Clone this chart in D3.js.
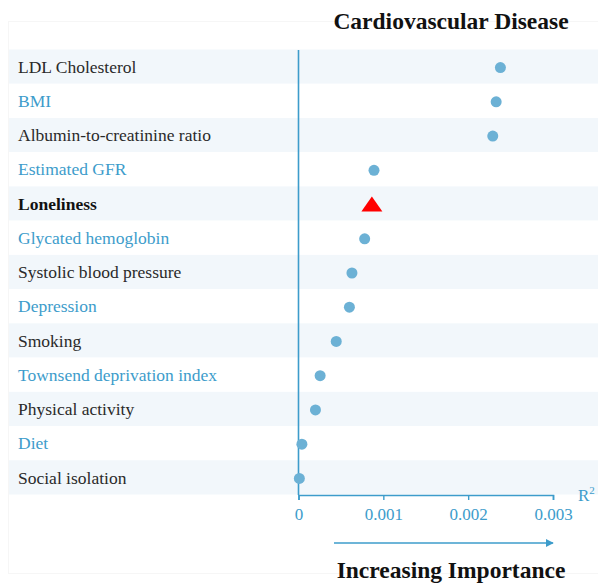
<!DOCTYPE html>
<html>
<head>
<meta charset="utf-8">
<script src="https://cdn.jsdelivr.net/npm/d3@7"></script>
<style>
  body { margin: 0; background: #fff; }
  svg { display: block; font-family: "Liberation Serif", "Times New Roman", serif; }
</style>
</head>
<body>
<svg id="chart" width="598" height="583"></svg>
<script>
// factors, top to bottom
const factors = ["LDL Cholesterol", "BMI", "Albumin-to-creatinine ratio", "Estimated GFR",
  "Loneliness", "Glycated hemoglobin", "Systolic blood pressure", "Depression", "Smoking",
  "Townsend deprivation index", "Physical activity", "Diet", "Social isolation"]
// R squared
const r2 = [0.00238, 0.00233, 0.00229, 0.00089, 0.000865, 0.00078, 0.00063, 0.0006,
  0.000445, 0.000255, 0.0002, 0.00004, 0.00001]
const highlight = "Loneliness"
const xTicks = [0, 0.001, 0.002, 0.003]

const blue = "#3d9ccb"
const dotColor = "#6cb1d5"

const svg = d3.select("#chart")

const x = d3.scaleLinear().domain([0, 0.003]).range([298.5, 553])
const y = d3.scaleBand().domain(factors).range([49.5, 494.5])

const data = factors.map((f, i) => ({ name: f, value: r2[i], i: i }))

// faint frame
svg.append("rect")
  .attr("x", 8.5).attr("y", 21.5).attr("width", 600).attr("height", 552)
  .attr("fill", "none").attr("stroke", "#f6f6f6")

// row bands
svg.selectAll(".band")
  .data(data)
  .enter()
  .append("rect")
  .attr("class", "band")
  .attr("x", 9)
  .attr("y", d => y(d.name))
  .attr("width", 598 - 9)
  .attr("height", y.bandwidth())
  .attr("fill", d => d.i % 2 == 0 ? "#f2f7fb" : "#ffffff")

// labels
svg.selectAll(".lab")
  .data(data)
  .enter()
  .append("text")
  .attr("x", 18)
  .attr("y", d => y(d.name) + y.bandwidth() / 2)
  .attr("dy", "0.35em")
  .attr("font-size", 17.5)
  .attr("font-weight", d => d.name == highlight ? "bold" : "normal")
  .attr("fill", d => d.name == highlight ? "#111" : (d.i % 2 == 0 ? "#2a2a2a" : blue))
  .text(d => d.name)

// vertical axis line
svg.append("line")
  .attr("x1", x(0)).attr("x2", x(0))
  .attr("y1", 50).attr("y2", 495)
  .attr("stroke", blue).attr("stroke-width", 1.6)

// x axis
const xAxis = svg.append("g")
  .attr("transform", `translate(0, 495)`)
  .call(d3.axisBottom(x).tickValues(xTicks).tickFormat(d => d == 0 ? "0" : d3.format(".3f")(d))
    .tickSize(5).tickPadding(8))
xAxis.select(".domain").attr("stroke", blue).attr("stroke-width", 1.6)
xAxis.selectAll(".tick line").attr("stroke", blue).attr("stroke-width", 1.4)
xAxis.selectAll(".tick text")
  .attr("fill", blue)
  .attr("font-size", 17)
  .attr("font-family", "Liberation Serif, serif")

svg.append("text")
  .attr("x", 578).attr("y", 501)
  .attr("font-size", 17)
  .attr("fill", blue)
  .text("R")
  .append("tspan")
  .attr("font-size", 11)
  .attr("dy", -7)
  .text("2")

// points
const pts = data.filter(d => d.name != highlight)
svg.selectAll(".dot")
  .data(pts)
  .enter()
  .append("circle")
  .attr("cx", d => x(d.value))
  .attr("cy", d => y(d.name) + y.bandwidth() / 2 + 1)
  .attr("r", 5.5)
  .attr("fill", dotColor)

const hl = data.filter(d => d.name == highlight)
svg.selectAll(".tri")
  .data(hl)
  .enter()
  .append("path")
  .attr("d", "M0,-8 L10.5,7 L-10.5,7 Z")
  .attr("transform", d => `translate(${x(d.value)}, ${y(d.name) + y.bandwidth() / 2 + 1})`)
  .attr("fill", "#ff0000")

// title
svg.append("text")
  .attr("x", 451).attr("y", 29)
  .attr("text-anchor", "middle")
  .attr("font-size", 23.5)
  .attr("font-weight", "bold")
  .attr("fill", "#111")
  .text("Cardiovascular Disease")

// arrow
svg.append("defs").append("marker")
  .attr("id", "arr")
  .attr("viewBox", "0 0 10 10")
  .attr("refX", 9).attr("refY", 5)
  .attr("markerWidth", 8).attr("markerHeight", 8)
  .attr("markerUnits", "userSpaceOnUse")
  .attr("orient", "auto")
  .append("path")
  .attr("d", "M0,0 L10,5 L0,10 Z")
  .attr("fill", blue)

svg.append("line")
  .attr("x1", 334).attr("x2", 553)
  .attr("y1", 543).attr("y2", 543)
  .attr("stroke", blue).attr("stroke-width", 1.6)
  .attr("marker-end", "url(#arr)")

svg.append("text")
  .attr("x", 451).attr("y", 578)
  .attr("text-anchor", "middle")
  .attr("font-size", 23.5)
  .attr("font-weight", "bold")
  .attr("fill", "#111")
  .text("Increasing Importance")
</script>
</body>
</html>
